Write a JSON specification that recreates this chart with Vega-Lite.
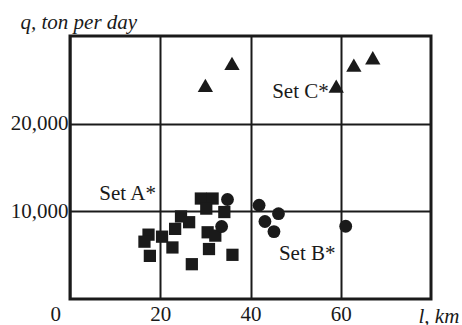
{
  "$schema": "https://vega.github.io/schema/vega-lite/v6.json",
  "width": 361,
  "height": 263,
  "autosize": {"type": "none"},
  "padding": {"left": 70, "top": 36, "right": 31, "bottom": 26},
  "background": "white",
  "config": {
    "font": "Liberation Serif",
    "view": {"stroke": "#1a1a1a", "strokeWidth": 3},
    "axis": {
      "domain": false,
      "ticks": false,
      "grid": true,
      "gridColor": "#1a1a1a",
      "gridWidth": 2,
      "gridOpacity": 1,
      "labelFont": "Liberation Serif",
      "labelFontSize": 21,
      "labelColor": "#1a1a1a",
      "titleFont": "Liberation Serif",
      "titleFontSize": 21,
      "titleFontWeight": "normal",
      "titleFontStyle": "italic",
      "titleColor": "#1a1a1a"
    }
  },
  "datasets": {
    "points": [
      {"l": 29.0, "q": 11460, "set": "A"},
      {"l": 31.6, "q": 11460, "set": "A"},
      {"l": 30.2, "q": 10310, "set": "A"},
      {"l": 34.2, "q": 9920, "set": "A"},
      {"l": 24.6, "q": 9420, "set": "A"},
      {"l": 26.4, "q": 8760, "set": "A"},
      {"l": 23.3, "q": 8000, "set": "A"},
      {"l": 17.4, "q": 7340, "set": "A"},
      {"l": 16.5, "q": 6540, "set": "A"},
      {"l": 20.4, "q": 7110, "set": "A"},
      {"l": 22.7, "q": 5880, "set": "A"},
      {"l": 17.7, "q": 4920, "set": "A"},
      {"l": 30.5, "q": 7610, "set": "A"},
      {"l": 32.2, "q": 7230, "set": "A"},
      {"l": 30.8, "q": 5700, "set": "A"},
      {"l": 27.0, "q": 3970, "set": "A"},
      {"l": 36.0, "q": 5040, "set": "A"},
      {"l": 34.9, "q": 11350, "set": "B"},
      {"l": 33.6, "q": 8270, "set": "B"},
      {"l": 41.9, "q": 10690, "set": "B"},
      {"l": 46.2, "q": 9730, "set": "B"},
      {"l": 43.2, "q": 8840, "set": "B"},
      {"l": 45.2, "q": 7690, "set": "B"},
      {"l": 61.1, "q": 8300, "set": "B"},
      {"l": 30.0, "q": 24370, "set": "C"},
      {"l": 35.9, "q": 26890, "set": "C"},
      {"l": 59.0, "q": 24270, "set": "C"},
      {"l": 62.9, "q": 26680, "set": "C"},
      {"l": 67.1, "q": 27520, "set": "C"}
    ],
    "labels": [
      {"l": 6.5, "q": 11260, "text": "Set A*"},
      {"l": 46.3, "q": 4460, "text": "Set B*"},
      {"l": 44.8, "q": 22910, "text": "Set C*"}
    ]
  },
  "encoding": {
    "x": {
      "field": "l", "type": "quantitative",
      "scale": {"domain": [0, 80], "nice": false, "zero": false},
      "axis": {
        "values": [0, 20, 40, 60],
        "labelPadding": 4,
        "labelOffset": {"condition": {"test": "datum.value === 0", "value": -20}, "value": 0},
        "title": "l, km",
        "titleAnchor": "start",
        "titleAlign": "left",
        "titleBaseline": "alphabetic",
        "titleX": 348,
        "titleY": 23
      }
    },
    "y": {
      "field": "q", "type": "quantitative",
      "scale": {"domain": [0, 30000], "nice": false, "zero": false},
      "axis": {
        "values": [10000, 20000],
        "format": ",d",
        "labelPadding": 2,
        "title": "q, ton per day",
        "titleAngle": 0,
        "titleAlign": "left",
        "titleBaseline": "alphabetic",
        "titleX": -50,
        "titleY": -8
      }
    }
  },
  "layer": [
    {
      "data": {"name": "points"},
      "transform": [{"filter": "datum.set === 'A'"}],
      "mark": {"type": "point", "shape": "square", "size": 150, "filled": true, "opacity": 1, "color": "#1a1a1a"}
    },
    {
      "data": {"name": "points"},
      "transform": [{"filter": "datum.set === 'B'"}],
      "mark": {"type": "point", "shape": "circle", "size": 165, "filled": true, "opacity": 1, "color": "#1a1a1a"}
    },
    {
      "data": {"name": "points"},
      "transform": [{"filter": "datum.set === 'C'"}],
      "mark": {"type": "point", "shape": "triangle-up", "size": 235, "filled": true, "opacity": 1, "color": "#1a1a1a"}
    },
    {
      "data": {"name": "labels"},
      "mark": {"type": "text", "font": "Liberation Serif", "fontSize": 21, "color": "#1a1a1a", "baseline": "alphabetic", "align": "left"},
      "encoding": {
        "text": {"field": "text"}
      }
    }
  ]
}
